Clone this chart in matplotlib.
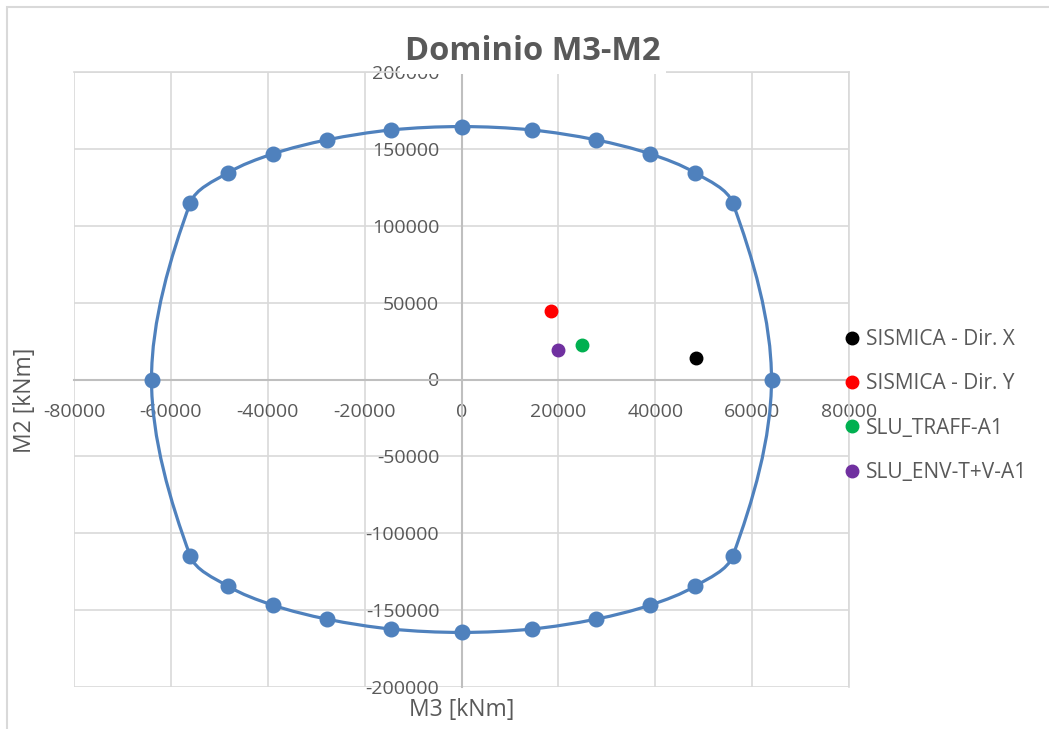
import numpy as np
import matplotlib
matplotlib.use('Agg')
import matplotlib.pyplot as plt
from matplotlib.path import Path
from matplotlib.patches import PathPatch, Rectangle

plt.rcParams['font.family'] = ['Open Sans', 'DejaVu Sans']
plt.rcParams['axes.unicode_minus'] = False

# Dominio di resistenza M3-M2
dom_m3 = [0, 14500, 27700, 38900, 48300, 56000, 64000, 56000, 48300, 38900, 27700, 14500,
          0, -14500, -27700, -38900, -48300, -56000, -64000, -56000, -48300, -38900, -27700, -14500]
dom_m2 = [164500, 162300, 155900, 146800, 134300, 114800, 0, -114800, -134300, -146800, -155900, -162300,
          -164500, -162300, -155900, -146800, -134300, -114800, 0, 114800, 134300, 146800, 155900, 162300]

# Sollecitazioni
load_names = ['SISMICA - Dir. X', 'SISMICA - Dir. Y', 'SLU_TRAFF-A1', 'SLU_ENV-T+V-A1']
load_m3 = [48500, 18400, 24800, 19900]
load_m2 = [14000, 44500, 22400, 19200]
load_colors = ['#000000', '#FF0000', '#00B050', '#7030A0']

blue = '#4F81BD'
grid_c = '#D9D9D9'
axis_c = '#BFBFBF'
txt_c = '#595959'

fig = plt.figure(figsize=(10.49, 7.29), dpi=100)
ax = fig.add_axes([74/1049, 1 - 687/729, (849-74)/1049, (687-72)/729])
ax.set_xlim(-80000, 80000)
ax.set_ylim(-200000, 200000)

# curva liscia tipo Excel: bezier, tangenti pesate con le lunghezze (in pixel)
pts = np.column_stack([dom_m3, dom_m2]).astype(float)
sc = np.array([775 / 160000, 615 / 400000])
pp = pts * sc
n = len(pts)
verts = [pts[0]]
codes = [Path.MOVETO]
for i in range(n):
    i0, i1, i2, i3 = i - 1, i, (i + 1) % n, (i + 2) % n
    d01 = np.linalg.norm(pp[i1] - pp[i0])
    d12 = np.linalg.norm(pp[i2] - pp[i1])
    d23 = np.linalg.norm(pp[i3] - pp[i2])
    c1 = pp[i1] + (pp[i2] - pp[i0]) * d12 / (d01 + d12) / 3
    c2 = pp[i2] - (pp[i3] - pp[i1]) * d12 / (d12 + d23) / 3
    verts += [c1 / sc, c2 / sc, pts[i2]]
    codes += [Path.CURVE4] * 3
ax.add_patch(PathPatch(Path(verts, codes), facecolor='none', edgecolor=blue, lw=2.3, zorder=3))
ax.plot(dom_m3, dom_m2, 'o', color=blue, ms=10.5, zorder=4)

for x, y, c, nm in zip(load_m3, load_m2, load_colors, load_names):
    ax.plot(x, y, 'o', color=c, ms=9, zorder=5, label=nm)

ax.set_xticks(np.arange(-80000, 80001, 20000))
ax.set_yticks(np.arange(-200000, 200001, 50000))
ax.grid(True, color=grid_c, lw=1.2, zorder=0)
ax.set_axisbelow(True)
for s in ['top', 'right']:
    ax.spines[s].set_color(grid_c)
    ax.spines[s].set_linewidth(1.2)
ax.spines['bottom'].set_position('zero')
ax.spines['left'].set_position('zero')
ax.spines['bottom'].set_color(axis_c)
ax.spines['left'].set_color(axis_c)
ax.spines['bottom'].set_linewidth(1.5)
ax.spines['left'].set_linewidth(1.5)
ax.tick_params(length=0, labelsize=14, colors=txt_c)
ax.tick_params(axis='x', pad=17)
ax.tick_params(axis='y', pad=16)

leg = fig.legend(loc='upper left', bbox_to_anchor=(846/1049, 1 - 329/729), frameon=False,
                 fontsize=15, handlelength=0.55, handletextpad=0.4, labelspacing=1.12,
                 borderpad=0, borderaxespad=0)
for t in leg.get_texts():
    t.set_color(txt_c)

fig.text(533/1049, 1 - 52/729, 'Dominio M3-M2', ha='center', va='center', fontsize=23.5,
         fontweight='bold', color=txt_c, zorder=10,
         bbox=dict(facecolor='white', edgecolor='none', pad=4))
fig.text(462/1049, 1 - 710/729, 'M3 [kNm]', ha='center', va='center', fontsize=16.5, color=txt_c)
fig.text(25/1049, 1 - 400/729, 'M2 [kNm]', ha='center', va='center', fontsize=16.5, color=txt_c,
         rotation=90)

fig.add_artist(Rectangle((7/1049, -0.1), 2, 1.1 - 7/729, transform=fig.transFigure,
                         facecolor='none', edgecolor=grid_c, lw=1.5))

fig.savefig('out.png', dpi=100)
